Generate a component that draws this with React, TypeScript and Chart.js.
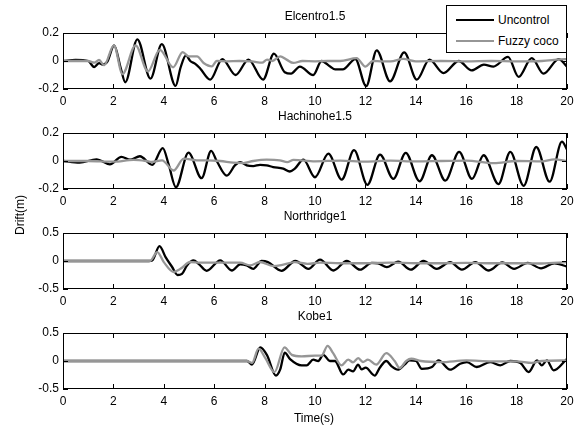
import React, { useEffect, useRef } from "react";
import { Chart, registerables } from "chart.js";

Chart.register(...registerables);

// ---------- data ----------
const xTicks = [0, 2, 4, 6, 8, 10, 12, 14, 16, 18, 20];
const yTicksSmall = [-0.2, 0, 0.2];
const yTicksLarge = [-0.5, 0, 0.5];
const titles = ["Elcentro1.5", "Hachinohe1.5", "Northridge1", "Kobe1"];
const seriesLabels = ["Uncontrol", "Fuzzy coco"];
const seriesColors = ["#000000", "#969696"];

type P = [number, number];

const elcentroUncontrol: P[] = [
  [0, 0], [0.5, 0.008], [1.0, 0.0], [1.24, -0.043], [1.43, -0.015], [1.57, -0.026], [1.76, -0.005],
  [2.03, 0.112], [2.29, -0.05], [2.47, -0.152], [2.95, 0.155], [3.47, -0.126], [3.92, 0.12],
  [4.47, -0.178], [4.66, -0.05], [4.88, 0.04], [5.05, 0.0], [5.25, -0.02], [5.45, -0.055],
  [5.84, -0.133], [6.32, 0.014], [6.85, -0.1], [7.36, 0.01], [7.94, -0.133], [8.37, 0.052],
  [8.8, -0.08], [9.05, -0.09], [9.4, -0.04], [9.93, -0.1], [10.26, 0.0], [10.6, -0.04],
  [10.8, -0.06], [11.1, -0.06], [11.6, 0.014], [12.03, -0.18], [12.45, 0.076], [12.98, -0.145],
  [13.54, 0.062], [14.04, -0.133], [14.54, 0.01], [15.1, -0.086], [15.7, 0.0], [16.22, -0.067],
  [16.7, -0.026], [17.08, -0.04], [17.66, 0.029], [18.08, -0.114], [18.6, 0.02], [19.07, -0.09],
  [19.67, 0.014], [20, -0.04],
];
const elcentroFuzzy: P[] = [
  [0, 0], [1.0, 0.0], [1.24, -0.012], [1.43, 0.007], [1.63, -0.03], [2.02, 0.112], [2.36, -0.093],
  [2.88, 0.112], [3.37, -0.074], [3.84, 0.08], [4.37, -0.045], [4.75, 0.064], [4.99, 0.033],
  [5.32, 0.033], [5.58, -0.014], [5.91, -0.038], [6.1, 0.0], [6.5, -0.002], [7.0, 0.0],
  [7.5, -0.003], [7.9, -0.012], [8.1, 0.01], [8.3, 0.0], [8.62, 0.033], [8.87, 0.01],
  [9.14, -0.014], [9.5, 0.0], [10, -0.002], [10.5, 0.0], [11.0, 0.0], [11.65, 0.02], [12.0, -0.04],
  [12.3, 0.0], [12.6, -0.002], [13.0, -0.003], [13.5, 0.015], [14, -0.002], [15, 0.0],
  [16, -0.003], [17, 0.0], [18, -0.003], [19, 0.0], [19.95, 0.014], [20, 0.01],
];
const hachinoheUncontrol: P[] = [
  [0, 0], [0.66, -0.012], [1.33, 0.012], [1.86, -0.024], [2.32, 0.03], [2.66, 0.01], [3.05, 0.034],
  [3.54, -0.027], [3.96, 0.092], [4.2, -0.03], [4.48, -0.187], [4.98, 0.06], [5.5, -0.123],
  [5.88, 0.073], [6.1, 0.0], [6.5, -0.105], [6.83, -0.03], [7.03, -0.008], [7.29, -0.031],
  [7.55, -0.036], [7.82, -0.027], [8.08, -0.031], [8.34, -0.043], [8.74, -0.055], [9.0, -0.075],
  [9.2, -0.055], [9.54, 0.01], [10.0, -0.116], [10.53, 0.053], [11.06, -0.133], [11.55, 0.077],
  [12.08, -0.17], [12.58, 0.046], [13.11, -0.128], [13.6, 0.058], [14.15, -0.145], [14.64, 0.041],
  [15.17, -0.14], [15.72, 0.065], [16.23, -0.128], [16.69, 0.041], [17.28, -0.165], [17.75, 0.065],
  [18.28, -0.177], [18.78, 0.1], [19.31, -0.148], [19.8, 0.138], [20, 0.082],
];
const hachinoheFuzzy: P[] = [
  [0, 0], [1, 0.0], [2, -0.005], [2.8, 0.008], [3.3, 0.0], [3.52, -0.007], [3.93, 0.005],
  [4.39, -0.068], [4.79, 0.017], [5.3, 0.005], [5.7, 0.005], [6.24, 0.0], [6.76, -0.012],
  [7.16, -0.015], [7.55, 0.0], [8.08, 0.01], [8.6, 0.005], [8.9, -0.008], [9.15, 0.008],
  [10, -0.002], [11, 0.003], [12, -0.005], [13, 0.002], [14, -0.003], [15, 0.0], [16, 0.003],
  [17.1, -0.015], [18, 0.0], [19, -0.003], [19.5, 0.012], [20, 0.0],
];
const northridgeUncontrol: P[] = [
  [0, 0], [3.4, 0.0], [3.54, 0.01], [3.83, 0.265], [4.07, 0.07], [4.33, -0.107], [4.55, -0.25],
  [4.72, -0.23], [4.92, -0.08], [5.18, 0.01], [5.38, -0.05], [5.7, -0.175], [6.24, 0.012],
  [6.7, -0.17], [7.03, -0.06], [7.29, -0.08], [7.55, -0.14], [7.88, 0.0], [8.13, -0.02],
  [8.67, -0.175], [9.22, 0.0], [9.74, -0.14], [10.2, 0.024], [10.73, -0.17], [11.26, 0.0],
  [11.79, -0.155], [12.25, -0.035], [12.5, -0.04], [12.85, -0.11], [13.3, -0.01], [13.8, -0.155],
  [14.3, 0.0], [14.83, -0.14], [15.36, -0.02], [15.83, -0.155], [16.36, -0.02], [16.9, -0.17],
  [17.43, -0.025], [17.9, -0.14], [18.44, -0.035], [18.97, -0.13], [19.5, -0.04], [20, -0.1],
];
const northridgeFuzzy: P[] = [
  [0, 0], [3.45, 0.0], [3.74, 0.16], [4.0, -0.02], [4.39, -0.196], [4.66, -0.14], [5.05, -0.018],
  [5.45, -0.03], [6.0, -0.03], [6.5, -0.03], [7.03, -0.03], [7.42, -0.077], [7.82, -0.018],
  [8.34, -0.09], [8.7, -0.07], [9.2, -0.02], [9.7, -0.05], [10.2, -0.03], [11, -0.04], [12, -0.04],
  [13, -0.03], [14, -0.04], [15, -0.04], [16, -0.035], [17, -0.04], [18, -0.04], [19, -0.045],
  [20, -0.02],
];
const kobeUncontrol: P[] = [
  [0, 0], [7.3, 0.0], [7.5, -0.065], [7.83, 0.244], [8.09, 0.11], [8.45, -0.26], [8.62, -0.15],
  [8.8, 0.15], [9.01, 0.035], [9.47, -0.077], [9.67, -0.077], [9.93, 0.024], [10.13, 0.0],
  [10.33, 0.11], [10.59, 0.0], [10.79, 0.0], [11.12, -0.24], [11.32, -0.155], [11.51, -0.185],
  [11.71, -0.065], [11.85, -0.15], [12.01, -0.12], [12.37, -0.26], [12.57, -0.12], [12.83, 0.0],
  [13.03, -0.09], [13.29, -0.155], [13.55, -0.065], [13.75, 0.01], [14.01, 0.0], [14.24, -0.14],
  [14.64, -0.107], [14.9, 0.01], [15.36, -0.155], [15.76, -0.05], [16.03, -0.02], [16.42, -0.107],
  [16.95, -0.02], [17.35, -0.077], [17.75, 0.0], [18.15, -0.035], [18.48, -0.196], [18.81, 0.01],
  [19.0, -0.077], [19.2, 0.01], [19.47, -0.167], [20, 0.04],
];
const kobeFuzzy: P[] = [
  [0, 0], [7.3, 0.0], [7.5, -0.035], [7.76, 0.22], [8.03, 0.05], [8.39, -0.2], [8.79, 0.244],
  [9.08, 0.11], [9.47, 0.083], [10, 0.095], [10.26, 0.095], [10.5, 0.27], [10.72, 0.14],
  [11.05, -0.077], [11.32, 0.024], [11.51, -0.024], [11.71, 0.05], [11.9, -0.018], [12.1, 0.024],
  [12.43, -0.065], [12.83, 0.14], [13.16, 0.0], [13.36, -0.125], [13.62, 0.0], [13.82, 0.04],
  [14.2, 0.0], [15, -0.02], [16, 0.01], [17, -0.005], [18, -0.005], [18.6, -0.035], [19, 0.0],
  [20, 0.01],
];

const uncontrolSets = [elcentroUncontrol, hachinoheUncontrol, northridgeUncontrol, kobeUncontrol];
const fuzzySets = [elcentroFuzzy, hachinoheFuzzy, northridgeFuzzy, kobeFuzzy];
const yTickSets = [yTicksSmall, yTicksSmall, yTicksLarge, yTicksLarge];

// ---------- layout ----------
const W = 580;
const H = 430;
const PLOT_LEFT = 63;
const PLOT_RIGHT = 567;
const PLOT_TOPS = [33, 133, 233, 333];
const PLOT_H = 56;
const Y_AXIS_W = 40;
const X_AXIS_H = 20;
const FONT = '"Liberation Sans", Arial, Helvetica, sans-serif';

const matlabBox = {
  id: "matlabBox",
  afterDatasetsDraw(chart: any, _args: any, opts: any) {
    const { ctx, chartArea: a, scales } = chart;
    ctx.save();
    ctx.strokeStyle = "#000";
    ctx.lineWidth = 1;
    ctx.strokeRect(a.left + 0.5, a.top + 0.5, a.right - a.left - 1, a.bottom - a.top - 1);
    const L = 5;
    ctx.beginPath();
    scales.x.ticks.forEach((t: any) => {
      const px = Math.round(scales.x.getPixelForValue(t.value)) + 0.5;
      ctx.moveTo(px, a.bottom);
      ctx.lineTo(px, a.bottom - L);
      ctx.moveTo(px, a.top);
      ctx.lineTo(px, a.top + L);
    });
    scales.y.ticks.forEach((t: any) => {
      const py = Math.round(scales.y.getPixelForValue(t.value)) + 0.5;
      ctx.moveTo(a.left, py);
      ctx.lineTo(a.left + L, py);
      ctx.moveTo(a.right, py);
      ctx.lineTo(a.right - L, py);
    });
    ctx.stroke();
    ctx.fillStyle = "#000";
    ctx.font = "12px " + FONT;
    ctx.textAlign = "center";
    ctx.textBaseline = "middle";
    ctx.fillText(opts.title, (a.left + a.right) / 2, a.top - 16);
    ctx.restore();
  },
};

function Subplot({ index }: { index: number }) {
  const ref = useRef<HTMLCanvasElement | null>(null);
  useEffect(() => {
    if (!ref.current) return;
    const top = PLOT_TOPS[index];
    const bottom = top + PLOT_H;
    const yTicks = yTickSets[index];
    const toXY = (pts: P[]) => pts.map(([x, y]) => ({ x, y }));
    const chart = new Chart(ref.current, {
      type: "line",
      data: {
        datasets: [
          {
            label: seriesLabels[0],
            data: toXY(uncontrolSets[index]),
            borderColor: seriesColors[0],
            backgroundColor: seriesColors[0],
            borderWidth: 2.3,
            pointRadius: 0,
            tension: 0.4,
            cubicInterpolationMode: "monotone",
            order: 2,
          },
          {
            label: seriesLabels[1],
            data: toXY(fuzzySets[index]),
            borderColor: seriesColors[1],
            backgroundColor: seriesColors[1],
            borderWidth: 2.3,
            pointRadius: 0,
            tension: 0.4,
            cubicInterpolationMode: "monotone",
            order: 1,
          },
        ],
      },
      options: {
        responsive: false,
        animation: false,
        events: [],
        layout: {
          padding: {
            left: PLOT_LEFT - Y_AXIS_W,
            right: W - PLOT_RIGHT,
            top: top,
            bottom: H - bottom - X_AXIS_H,
          },
        },
        plugins: {
          legend: { display: false },
          tooltip: { enabled: false },
          title: { display: false },
          matlabBox: { title: titles[index] },
        } as any,
        scales: {
          x: {
            type: "linear",
            min: 0,
            max: 20,
            afterBuildTicks: (axis: any) => {
              axis.ticks = xTicks.map((v) => ({ value: v }));
            },
            afterFit: (axis: any) => {
              axis.height = X_AXIS_H;
            },
            grid: { display: false, drawTicks: false },
            border: { display: false },
            ticks: {
              color: "#000",
              font: { family: FONT, size: 12 },
              padding: 5,
              maxRotation: 0,
              autoSkip: false,
              callback: (v: any) => String(v),
            },
          },
          y: {
            type: "linear",
            min: yTicks[0],
            max: yTicks[yTicks.length - 1],
            afterBuildTicks: (axis: any) => {
              axis.ticks = yTicks.map((v) => ({ value: v }));
            },
            afterFit: (axis: any) => {
              axis.width = Y_AXIS_W;
            },
            grid: { display: false, drawTicks: false },
            border: { display: false },
            ticks: {
              color: "#000",
              font: { family: FONT, size: 12 },
              padding: 4,
              autoSkip: false,
              callback: (v: any) => String(v),
            },
          },
        },
      },
      plugins: [matlabBox],
    } as any);
    return () => chart.destroy();
  }, [index]);
  return (
    <canvas
      ref={ref}
      width={W}
      height={H}
      style={{ position: "absolute", left: 0, top: 0, width: W, height: H }}
    />
  );
}

function LegendRow({ top, color, label }: { top: number; color: string; label: string }) {
  return (
    <div style={{ position: "absolute", left: 0, top: top, width: 121, height: 0 }}>
      <div
        style={{
          position: "absolute",
          left: 9,
          top: -1,
          width: 38,
          height: 2,
          background: color,
        }}
      />
      <div
        style={{
          position: "absolute",
          left: 51,
          top: -8,
          height: 16,
          lineHeight: "16px",
          fontSize: 12,
          whiteSpace: "nowrap",
          color: "#000",
        }}
      >
        {label}
      </div>
    </div>
  );
}

export default function App() {
  return (
    <div
      style={{
        position: "absolute",
        left: 0,
        top: 0,
        width: W,
        height: H,
        background: "#fff",
        fontFamily: FONT,
        overflow: "hidden",
      }}
    >
      {titles.map((_, i) => (
        <Subplot key={i} index={i} />
      ))}
      <div
        style={{
          position: "absolute",
          left: 20,
          top: 215,
          transform: "translate(-50%, -50%) rotate(-90deg)",
          fontSize: 12,
          whiteSpace: "nowrap",
          color: "#000",
        }}
      >
        Drift(m)
      </div>
      <div
        style={{
          position: "absolute",
          left: 314,
          top: 418,
          transform: "translate(-50%, -50%)",
          fontSize: 12,
          whiteSpace: "nowrap",
          color: "#000",
        }}
      >
        Time(s)
      </div>
      <div
        style={{
          position: "absolute",
          left: 446,
          top: 5,
          width: 121,
          height: 48,
          boxSizing: "border-box",
          border: "1px solid #000",
          background: "#fff",
        }}
      >
        <LegendRow top={14} color={seriesColors[0]} label={seriesLabels[0]} />
        <LegendRow top={35} color={seriesColors[1]} label={seriesLabels[1]} />
      </div>
    </div>
  );
}
